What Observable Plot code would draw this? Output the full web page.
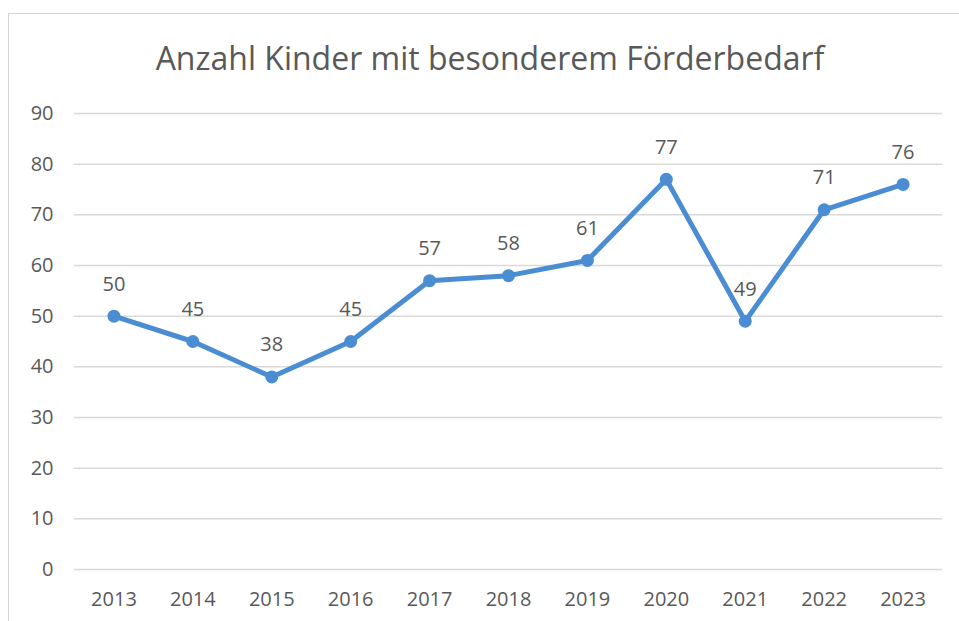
<!DOCTYPE html>
<html>
<head>
<meta charset="utf-8">
<script src="https://cdn.jsdelivr.net/npm/d3@7"></script>
<script src="https://cdn.jsdelivr.net/npm/@observablehq/plot@0.6"></script>
<style>
  html, body { margin: 0; padding: 0; background: #fff; }
  #wrap { position: relative; width: 959px; height: 621px; overflow: hidden; }
  #frame { position: absolute; left: 8px; top: 13px; width: 980px; height: 700px; border: 1.5px solid #d4d4d4; box-sizing: border-box; }
  #title { position: absolute; left: 0; width: 980px; top: 36px; text-align: center; font-family: "Open Sans", "Noto Sans", sans-serif; font-size: 32px; color: #595959; }
  #chart { position: absolute; left: 0; top: 0; }
</style>
</head>
<body>
<div id="wrap">
  <div id="frame"></div>
  <div id="chart"></div>
  <div id="title">Anzahl Kinder mit besonderem Förderbedarf</div>
</div>
<script>
const years = ["2013","2014","2015","2016","2017","2018","2019","2020","2021","2022","2023"];
const values = [50, 45, 38, 45, 57, 58, 61, 77, 49, 71, 76];
const yTicks = [0, 10, 20, 30, 40, 50, 60, 70, 80, 90];

const data = years.map((y, i) => ({year: y, value: values[i]}));
const blue = "#4A8DD3";
const grey = "#595959";

const plot = Plot.plot({
  width: 959,
  height: 621,
  marginLeft: 74,
  marginRight: 17,
  marginTop: 113,
  marginBottom: 52,
  style: { fontFamily: "'Open Sans', 'Noto Sans', sans-serif", fontSize: "20px", color: grey, background: "transparent" },
  x: { type: "point", domain: years, padding: 0.5, round: false, label: null },
  y: { domain: [0, 90], ticks: yTicks, label: null },
  marks: [
    Plot.gridY(yTicks, { stroke: "#d9d9d9", strokeOpacity: 1, strokeWidth: 1.5 }),
    Plot.axisY(yTicks, { tickSize: 0, tickPadding: 21, fill: grey, fontSize: 20, textAnchor: "end", label: null }),
    Plot.axisX(years, { tickSize: 0, tickPadding: 22, fill: grey, fontSize: 20, label: null }),
    Plot.line(data, { x: "year", y: "value", stroke: blue, strokeWidth: 5 }),
    Plot.dot(data, { x: "year", y: "value", fill: blue, r: 6.5 }),
    Plot.text(data, { x: "year", y: "value", text: d => String(d.value), dy: -32, fill: grey, fontSize: 20 })
  ]
});
document.getElementById("chart").appendChild(plot);
</script>
</body>
</html>
